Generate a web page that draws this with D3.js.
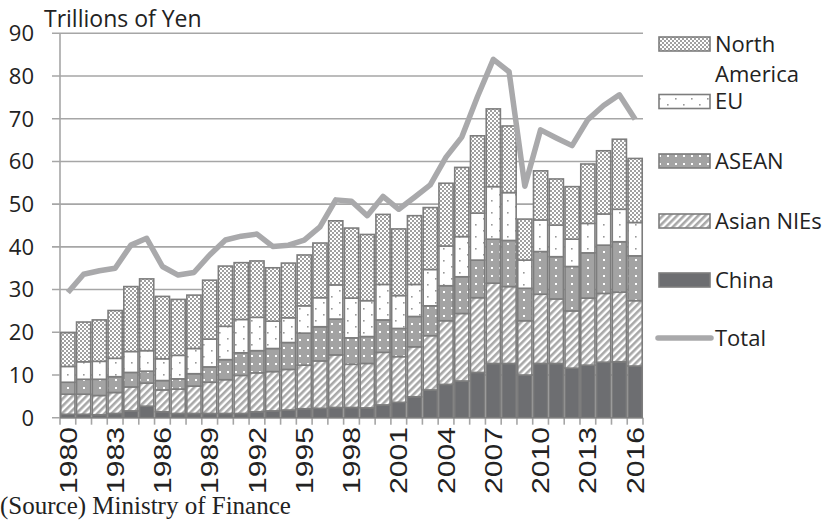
<!DOCTYPE html>
<html>
<head>
<meta charset="utf-8">
<script src="https://cdn.jsdelivr.net/npm/d3@7"></script>
<style>
  body { margin: 0; background: #fff; }
  svg { display: block; }
</style>
</head>
<body>
<div id="chart"></div>
<script>
// data (trillions of yen)
var years = d3.range(1980, 2017);
var china = [0.8,0.8,0.7,1.0,1.6,2.7,1.4,1.0,1.0,1.0,1.0,1.0,1.4,1.6,1.8,2.1,2.2,2.4,2.4,2.3,3.0,3.6,4.9,6.5,7.8,8.6,10.6,12.7,12.7,10.0,12.7,12.7,11.6,12.3,13.0,13.1,12.1];
var nies = [4.7,4.7,4.5,4.9,5.6,5.4,5.1,5.7,6.4,7.3,7.9,8.9,9.1,9.2,9.5,10.2,11.1,12.3,10.1,10.4,12.3,10.7,11.7,12.7,14.9,15.8,17.5,18.8,18.0,12.7,16.2,15.1,13.4,15.7,16.1,16.3,15.3];
var asean = [2.8,3.5,3.8,3.7,3.4,2.8,2.2,2.4,2.9,3.6,4.7,5.3,5.2,5.4,6.3,7.5,8.0,8.4,6.2,6.3,7.6,6.6,7.1,7.0,8.2,8.6,8.8,10.3,10.8,7.6,10.0,9.9,10.4,10.6,11.3,11.8,10.5];
var eu = [3.7,4.1,4.2,4.3,4.9,4.8,5.1,5.5,5.9,6.5,7.8,7.8,7.8,6.4,5.8,6.4,6.8,8.0,9.3,8.4,8.3,7.7,7.5,8.5,9.3,9.4,11.0,12.3,11.2,6.6,7.4,7.4,6.4,6.9,7.3,7.6,7.8];
var northAmerica = [7.9,9.3,9.7,11.2,15.2,16.8,14.6,13.1,12.5,13.8,14.1,13.3,13.2,12.5,12.8,11.9,12.8,15.0,16.4,15.5,16.4,15.6,16.1,14.5,14.7,16.2,18.1,18.2,15.6,9.6,11.5,10.8,12.3,13.9,14.8,16.4,15.0];
var total = [29.3,33.6,34.4,35.0,40.4,42.0,35.4,33.4,34.0,38.1,41.6,42.5,43.0,40.1,40.4,41.6,44.7,51.0,50.7,47.3,51.8,48.8,51.6,54.5,61.0,65.7,75.2,83.9,81.0,54.2,67.4,65.5,63.7,69.8,73.1,75.6,69.9];
var yTicks = [0,10,20,30,40,50,60,70,80,90];

var seriesKeys = ["china","nies","asean","eu","na"];
var legendNames = {na: ["North", "America"], eu: ["EU"], asean: ["ASEAN"], nies: ["Asian NIEs"], china: ["China"]};

var rows = years.map(function(yr, i) {
    return {year: yr, china: china[i], nies: nies[i], asean: asean[i], eu: eu[i], na: northAmerica[i], total: total[i]};
});

var width = 827, height = 520;
var svg = d3.select("#chart").append("svg")
    .attr("width", width)
    .attr("height", height);

// patterns
var defs = svg.append("defs");
var pNA = defs.append("pattern").attr("id", "p-na").attr("patternUnits", "userSpaceOnUse")
    .attr("width", 4).attr("height", 4);
pNA.append("rect").attr("width", 4).attr("height", 4).attr("fill", "#fff");
pNA.append("rect").attr("width", 2).attr("height", 2).attr("fill", "#a0a0a0");
pNA.append("rect").attr("x", 2).attr("y", 2).attr("width", 2).attr("height", 2).attr("fill", "#a0a0a0");

var pEU = defs.append("pattern").attr("id", "p-eu").attr("patternUnits", "userSpaceOnUse")
    .attr("width", 16).attr("height", 12);
pEU.append("rect").attr("width", 16).attr("height", 12).attr("fill", "#fff");
pEU.append("rect").attr("x", 3).attr("y", 2).attr("width", 1.6).attr("height", 1.6).attr("fill", "#999");
pEU.append("rect").attr("x", 11).attr("y", 8).attr("width", 1.6).attr("height", 1.6).attr("fill", "#999");

var pAS = defs.append("pattern").attr("id", "p-asean").attr("patternUnits", "userSpaceOnUse")
    .attr("width", 8).attr("height", 8);
pAS.append("rect").attr("width", 8).attr("height", 8).attr("fill", "#a3a3a3");
pAS.append("rect").attr("x", 3).attr("y", 3).attr("width", 2).attr("height", 2).attr("fill", "#fff");

var pNI = defs.append("pattern").attr("id", "p-nies").attr("patternUnits", "userSpaceOnUse")
    .attr("width", 5).attr("height", 5).attr("patternTransform", "rotate(45)");
pNI.append("rect").attr("width", 5).attr("height", 5).attr("fill", "#fff");
pNI.append("rect").attr("width", 2.6).attr("height", 5).attr("fill", "#a8a8a8");

var fills = {china: "#6d6e71", nies: "url(#p-nies)", asean: "url(#p-asean)", eu: "url(#p-eu)", na: "url(#p-na)"};

var plotLeft = 60, plotRight = 643, plotTop = 33.3, plotBottom = 417.7;

var x = d3.scaleBand()
    .domain(years)
    .range([plotLeft, plotRight])
    .paddingInner(0.1)
    .paddingOuter(0.05);

var y = d3.scaleLinear()
    .domain([0, 90])
    .range([plotBottom, plotTop]);

var gridColor = "#a6a6a6";

// gridlines + y labels
svg.append("g").selectAll("line")
    .data(yTicks)
    .enter().append("line")
    .attr("x1", plotLeft - 8).attr("x2", plotRight)
    .attr("y1", function(d) { return y(d); })
    .attr("y2", function(d) { return y(d); })
    .attr("stroke", gridColor)
    .attr("stroke-width", 1.6);

svg.append("g").selectAll("text")
    .data(yTicks)
    .enter().append("text")
    .attr("x", 34)
    .attr("y", function(d) { return y(d); })
    .attr("dy", "0.36em")
    .attr("text-anchor", "end")
    .attr("font-family", "Open Sans, sans-serif")
    .attr("font-size", 22)
    .attr("fill", "#222")
    .text(function(d) { return d; });

// y axis line
svg.append("line")
    .attr("x1", plotLeft).attr("x2", plotLeft)
    .attr("y1", plotTop).attr("y2", plotBottom)
    .attr("stroke", gridColor).attr("stroke-width", 1.6);

// x ticks at band edges
var edges = d3.range(years.length + 1).map(function(i) { return plotLeft + i * (plotRight - plotLeft) / years.length; });
svg.append("g").selectAll("line")
    .data(edges)
    .enter().append("line")
    .attr("x1", function(d) { return d; }).attr("x2", function(d) { return d; })
    .attr("y1", plotBottom).attr("y2", plotBottom + 7)
    .attr("stroke", gridColor).attr("stroke-width", 1.6);

// stacked bars
var stack = d3.stack().keys(seriesKeys);
var stacked = stack(rows);

svg.append("g").selectAll("g")
    .data(stacked)
    .enter().append("g")
    .attr("fill", function(d) { return fills[d.key]; })
    .selectAll("rect")
    .data(function(d) { return d; })
    .enter().append("rect")
    .attr("x", function(d) { return x(d.data.year); })
    .attr("width", x.bandwidth())
    .attr("y", function(d) { return y(d[1]); })
    .attr("height", function(d) { return y(d[0]) - y(d[1]); })
    .attr("stroke", "#7d7d7d")
    .attr("stroke-width", 1.6);

// total line
var line = d3.line()
    .x(function(d) { return x(d.year) + x.bandwidth() / 2; })
    .y(function(d) { return y(d.total); });

svg.append("path")
    .datum(rows)
    .attr("d", line)
    .attr("fill", "none")
    .attr("stroke", "#a9a9ab")
    .attr("stroke-width", 5.5)
    .attr("stroke-linejoin", "round");

// x labels every 3 years
svg.append("g").selectAll("text")
    .data(years.filter(function(d) { return (d - 1980) % 3 === 0; }))
    .enter().append("text")
    .attr("transform", function(d) { return "translate(" + (x(d) + x.bandwidth() / 2) + ",427) rotate(-90)"; })
    .attr("dy", "0.36em")
    .attr("text-anchor", "end")
    .attr("font-family", "Liberation Sans, Arial, sans-serif")
    .attr("font-size", 24)
    .attr("textLength", 67)
    .attr("lengthAdjust", "spacingAndGlyphs")
    .attr("fill", "#222")
    .text(function(d) { return d; });

// title
svg.append("text")
    .attr("x", 44).attr("y", 27)
    .attr("font-family", "Open Sans, sans-serif")
    .attr("font-size", 23)
    .attr("fill", "#222")
    .text("Trillions of Yen");

// source
svg.append("text")
    .attr("x", 0).attr("y", 514)
    .attr("font-family", "Liberation Serif, Times New Roman, serif")
    .attr("font-size", 25)
    .attr("fill", "#222")
    .text("(Source) Ministry of Finance");

// legend
var legendKeys = ["na","eu","asean","nies","china"];
var legendY = [44, 101.5, 161, 221, 280];
var legend = svg.append("g");
legendKeys.forEach(function(k, i) {
    var cy = legendY[i];
    legend.append("rect")
        .attr("x", 659).attr("y", cy - 7)
        .attr("width", 51).attr("height", 14)
        .attr("fill", fills[k])
        .attr("stroke", "#7d7d7d").attr("stroke-width", 1.6);
    var t = legend.append("text")
        .attr("x", 715).attr("y", cy)
        .attr("font-family", "Open Sans, sans-serif")
        .attr("font-size", 22)
        .attr("fill", "#222");
    legendNames[k].forEach(function(s, j) {
        t.append("tspan").attr("x", 715).attr("dy", j === 0 ? "0.36em" : "1.35em").text(s);
    });
});
legend.append("line")
    .attr("x1", 658).attr("x2", 711)
    .attr("y1", 338).attr("y2", 338)
    .attr("stroke", "#a9a9ab").attr("stroke-width", 5.5)
    .attr("stroke-linecap", "round");
legend.append("text")
    .attr("x", 715).attr("y", 338)
    .attr("dy", "0.36em")
    .attr("font-family", "Open Sans, sans-serif")
    .attr("font-size", 22)
    .attr("fill", "#222")
    .text("Total");
</script>
</body>
</html>
